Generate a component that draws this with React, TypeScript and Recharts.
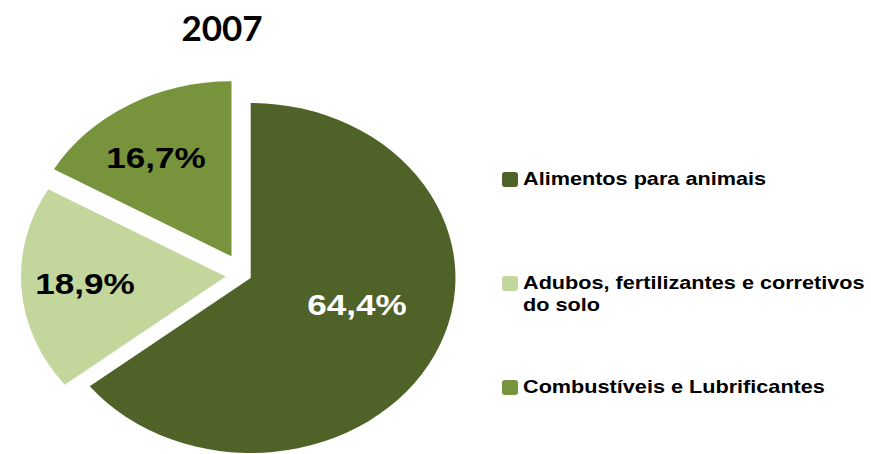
import { Cell, Legend, Pie, PieChart } from 'recharts';

const TITLE = '2007';
const NAMES = [
  'Alimentos para animais',
  'Adubos, fertilizantes e corretivos do solo',
  'Combustíveis e Lubrificantes',
];
const VALUES = [64.4, 18.9, 16.7];
const COLORS = ['#4F6228', '#C3D69B', '#77933C'];
const LABEL_COLORS = ['#FFFFFF', '#000000', '#000000'];

const data = NAMES.map((name, i) => ({ name, value: VALUES[i] }));

// the original chart is stretched horizontally
const SX = 1.17;
const EXPLODE = [6, 16, 22];
const LABEL_R = [0.54, 0.689, 0.677];
const LABEL_TURN = [10, -0.7, 3];
const RAD = Math.PI / 180;
const FONT = '"Liberation Sans", Arial, sans-serif';

const slot = (name: string, index?: number) => {
  const i = NAMES.indexOf(name);
  return i >= 0 ? i : index ?? 0;
};

const origin = (cx: number, cy: number, mid: number, i: number) => [
  cx + SX * EXPLODE[i] * Math.cos(mid * RAD),
  cy - EXPLODE[i] * Math.sin(mid * RAD),
];

function EllipseSector(props: any) {
  const { cx, cy, outerRadius: r, startAngle, endAngle, midAngle, fill, name, index } = props;
  const i = slot(name, index);
  const [ox, oy] = origin(cx, cy, midAngle, i);
  const pt = (a: number) => [ox + SX * r * Math.cos(a * RAD), oy - r * Math.sin(a * RAD)];
  const [x1, y1] = pt(startAngle);
  const [x2, y2] = pt(endAngle);
  const large = Math.abs(startAngle - endAngle) > 180 ? 1 : 0;
  const sweep = startAngle > endAngle ? 1 : 0;
  const d = `M${ox},${oy} L${x1},${y1} A${SX * r},${r} 0 ${large} ${sweep} ${x2},${y2} Z`;
  return <path d={d} fill={fill} stroke="none" />;
}

function renderLabel(props: any) {
  const { cx, cy, midAngle, outerRadius: r, name, index } = props;
  const i = slot(name, index);
  const [ox, oy] = origin(cx, cy, midAngle, i);
  const a = (midAngle + LABEL_TURN[i]) * RAD;
  const x = ox + SX * r * LABEL_R[i] * Math.cos(a);
  const y = oy - r * LABEL_R[i] * Math.sin(a) + 10.7;
  return (
    <text
      transform={`translate(${x},${y}) scale(${SX},1)`}
      textAnchor="middle"
      fontFamily={FONT}
      fontWeight="bold"
      fontSize={30}
      fill={LABEL_COLORS[i]}
    >
      {VALUES[i].toFixed(1).replace('.', ',')}%
    </text>
  );
}

function LegendBox() {
  return (
    <div style={{ position: 'relative', height: 240 }}>
      {NAMES.map((n, i) => (
        <div key={n} style={{ position: 'absolute', left: 0, top: i * 104, display: 'flex' }}>
          <div
            style={{
              width: 16, height: 15, marginTop: 4, flex: 'none',
              background: COLORS[i], borderRadius: 3,
            }}
          />
          <div
            style={{
              marginLeft: 5, width: 305, fontFamily: FONT, fontWeight: 'bold',
              fontSize: 18.5, lineHeight: '22px', color: '#000',
              transform: `scaleX(${SX})`, transformOrigin: 'left top',
            }}
          >
            {n}
          </div>
        </div>
      ))}
    </div>
  );
}

export default function App() {
  return (
    <div
      style={{
        position: 'absolute', left: 0, top: 0, width: 871, height: 454,
        overflow: 'hidden', background: '#fff',
      }}
    >
      <div
        style={{
          position: 'absolute', left: 122, width: 200, top: 6, textAlign: 'center',
          fontFamily: 'Lato, sans-serif', fontWeight: 'bold', fontSize: 35, lineHeight: '42px',
        }}
      >
        {TITLE}
      </div>
      <PieChart width={871} height={454} margin={{ top: 0, right: 0, bottom: 0, left: 0 }}>
        <Pie
          data={data}
          dataKey="value"
          nameKey="name"
          cx={244.4}
          cy={275.4}
          outerRadius={175}
          startAngle={90}
          endAngle={-270}
          stroke="none"
          shape={EllipseSector}
          label={renderLabel}
          labelLine={false}
          isAnimationActive={false}
        >
          {data.map((d, i) => (
            <Cell key={d.name} fill={COLORS[i]} />
          ))}
        </Pie>
        <Legend
          layout="vertical"
          align="right"
          verticalAlign="top"
          content={<LegendBox />}
          wrapperStyle={{ left: 502, top: 168, width: 369 }}
        />
      </PieChart>
    </div>
  );
}
